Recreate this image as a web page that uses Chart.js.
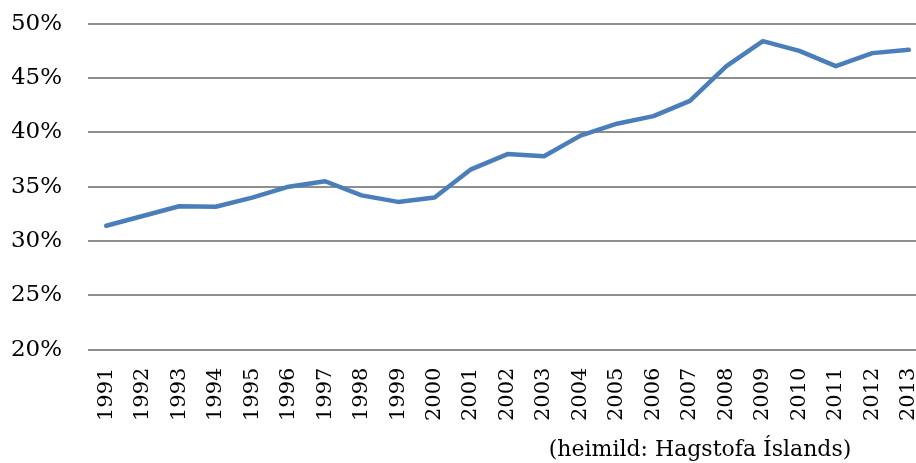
<!DOCTYPE html>
<html>
<head>
<meta charset="utf-8">
<script src="https://cdn.jsdelivr.net/npm/chart.js@4/dist/chart.umd.min.js"></script>
<style>
  html, body { margin: 0; padding: 0; background: #fff; overflow: hidden; }
  #wrap { width: 916px; height: 463px; overflow: hidden; position: relative; }
  /* the original is cropped at the top and right, so the canvas is larger and shifted */
  #chart { position: absolute; left: 0; top: -16px; }
</style>
</head>
<body>
<div id="wrap"><canvas id="chart" width="952" height="479"></canvas></div>
<script>
// Years and share (%)
var years = ['1991', '1992', '1993', '1994', '1995', '1996', '1997', '1998', '1999', '2000',
             '2001', '2002', '2003', '2004', '2005', '2006', '2007', '2008', '2009', '2010',
             '2011', '2012', '2013'];
var shareValues = [31.4, 32.3, 33.2, 33.15, 34.0, 35.0, 35.5, 34.2, 33.6, 34.0,
                   36.6, 38.0, 37.8, 39.7, 40.8, 41.5, 42.9, 46.1, 48.4, 47.5,
                   46.1, 47.3, 47.6];
var yMin = 20;
var yMax = 50;
var yStep = 5;
var sourceText = '(heimild: Hagstofa Íslands)';

var serif = '"DejaVu Serif"';

var ctx = document.getElementById('chart').getContext('2d');
var chart = new Chart(ctx, {
    type: 'line',
    data: {
        labels: years,
        datasets: [{
            label: 'Hlutfall',
            data: shareValues,
            borderColor: '#4a7ebb',
            borderWidth: 4.5,
            borderCapStyle: 'round',
            borderJoinStyle: 'round',
            pointRadius: 0,
            tension: 0,
            fill: false
        }]
    },
    options: {
        responsive: false,
        animation: false,
        layout: {
            padding: { top: 22, left: 12, right: 0, bottom: 0 }
        },
        plugins: {
            legend: { display: false },
            tooltip: { enabled: false },
            title: {
                display: true,
                text: sourceText,
                position: 'bottom',
                align: 'center',
                color: '#000',
                font: { family: serif, size: 22, weight: 'normal', lineHeight: 1.2 },
                padding: { top: 9, bottom: 0 }
            }
        },
        scales: {
            x: {
                offset: true,
                grid: { display: false, drawTicks: false },
                border: { display: false },
                afterFit: function(scale) { scale.height = 78; },
                ticks: {
                    color: '#000',
                    font: { family: serif, size: 21 },
                    minRotation: 90,
                    maxRotation: 90,
                    autoSkip: false,
                    padding: 18
                }
            },
            y: {
                min: yMin,
                max: yMax,
                grid: {
                    color: '#8e8e8e',
                    lineWidth: 2,
                    drawTicks: false
                },
                border: { display: false },
                afterFit: function(scale) { scale.width = 76; },
                ticks: {
                    stepSize: yStep,
                    color: '#000',
                    font: { family: serif, size: 23 },
                    padding: 26,
                    callback: function(v) { return v + '%'; }
                }
            }
        }
    },
    plugins: [{
        // the source note sits right of centre in the original
        id: 'titleShift',
        beforeDraw: function(c) {
            var t = c.titleBlock;
            if (t) { t.left = 484; t.right = 916; }
        }
    }]
});
</script>
</body>
</html>
